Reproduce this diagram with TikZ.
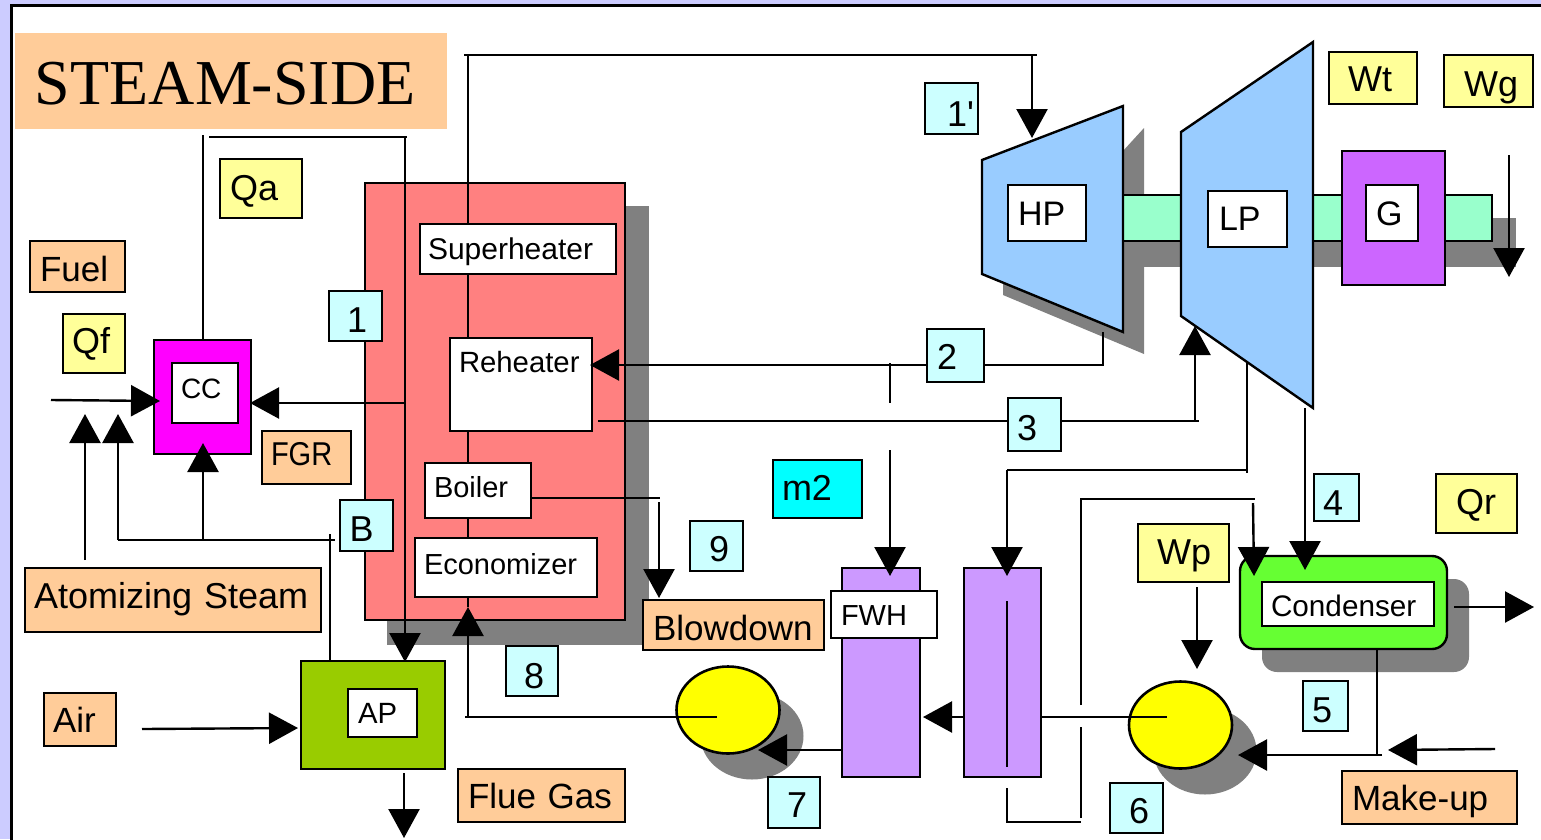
\documentclass[tikz,border=0pt]{standalone}
\usepackage{fontspec}
\setmainfont{Liberation Sans}
\newfontfamily\titlefont{Liberation Serif}
\newfontfamily\plainsans{Liberation Sans}
\usetikzlibrary{arrows.meta,shapes.geometric}
\definecolor{lav}{HTML}{CCCCFF}
\definecolor{orangeb}{HTML}{FFCC99}
\definecolor{yellowb}{HTML}{FFFF99}
\definecolor{cyanb}{HTML}{CCFFFF}
\definecolor{cyanfull}{HTML}{00FFFF}
\definecolor{magentafull}{HTML}{FF00FF}
\definecolor{yellowfull}{HTML}{FFFF00}
\definecolor{shadegrey}{HTML}{808080}
\definecolor{furn}{HTML}{FF8080}
\definecolor{heat}{HTML}{CC99FF}
\definecolor{blueT}{HTML}{99CCFF}
\definecolor{shaftc}{HTML}{99FFCC}
\definecolor{genc}{HTML}{CC66FF}
\definecolor{condc}{HTML}{66FF33}
\definecolor{apc}{HTML}{99CC00}
\newcommand{\fsz}[1]{\fontsize{#1pt}{#1pt}\selectfont}
% \bx{style}{name}{x1}{y1}{x2}{y2}{text x}{baseline y}{text}
\newcommand{\bx}[9]{%
  \pgfmathsetmacro{\bxw}{#5-#3}%
  \pgfmathsetmacro{\bxh}{#8-#4}%
  \pgfmathsetmacro{\bxd}{#6-#8}%
  \pgfmathsetmacro{\bxp}{#7-#3}%
  \node[anchor=north west,inner sep=0pt,outer sep=0pt,align=left,
        text width=\bxw pt,text height=\bxh pt,text depth=\bxd pt,#1] (#2) at (#3,#4)
        {\hspace*{\bxp pt}\mbox{#9}};}
\tikzset{
  x=1pt,y=-1pt,
  boxline/.style={draw=black,line width=2.4pt},
  orangebox/.style={boxline,fill=orangeb,font=\fsz{35}},
  yellowbox/.style={boxline,fill=yellowb,font=\fsz{36}},
  cyanbox/.style={boxline,fill=cyanb,font=\fsz{36}},
  whitebox/.style={boxline,fill=white,font=\fsz{29.3}},
  block/.style={boxline},
  wire/.style={draw=black,line width=2.4pt},
  flow/.style={wire,-{Triangle[length=29pt,width=31pt]}},
  pumpshape/.style={ellipse,draw=black,line width=2.6pt,fill=yellowfull,inner sep=0pt,outer sep=0pt,minimum width=103pt,minimum height=87pt},
  pumpshadow/.style={ellipse,fill=shadegrey,inner sep=0pt,outer sep=0pt,minimum width=103pt,minimum height=87pt},
}
\begin{document}
\begin{tikzpicture}
\useasboundingbox (0,0) rectangle (1541,839);
\clip (0,0) rectangle (1541,839);
\fill[lav] (0,0) rectangle (1541,839);
\draw[line width=2.6pt,fill=white] (11.5,5.5) rectangle (1560,860);

% title
\bx{fill=orangeb,font=\titlefont\fsz{64}}{title}{15}{33}{447}{129}{35}{104.5}{STEAM-SIDE}

% shadows
\fill[shadegrey] (387,206) rectangle (649,645);
\fill[shadegrey] (1003,282) -- (1144,128) -- (1144,354) -- (1003,295) -- cycle;
\fill[shadegrey] (1140,218) rectangle (1516,267);
\node[pumpshadow] (p1s) at (752,736) {};
\node[pumpshadow] (p2s) at (1205,751) {};
\fill[shadegrey,rounded corners=15pt] (1262,579) rectangle (1469,672);

% furnace and components
\bx{block,fill=furn}{furnace}{365}{183}{625}{620}{0}{400}{}
\bx{whitebox,font=\fsz{30}}{sup}{420}{224}{616}{274}{428}{259}{Superheater}
\bx{whitebox}{reh}{450}{338}{592}{431}{459}{372}{Reheater}
\bx{whitebox,font=\fsz{29}}{boil}{425}{463}{531}{518}{434}{497}{Boiler}
\bx{whitebox,font=\fsz{29}}{eco}{415}{538}{597}{597}{424}{574}{Economizer}

% combustion chamber
\bx{block,fill=magentafull}{ccouter}{154}{340}{251}{454}{154}{400}{}
\bx{whitebox,font=\fsz{28}}{cc}{172}{363}{238}{423}{181}{398.5}{CC}

% air preheater
\bx{block,fill=apc}{apouter}{301}{661}{445}{769}{301}{720}{}
\bx{whitebox}{ap}{348}{689}{417}{737}{358}{723.5}{AP}

% shaft and turbines
\bx{block,fill=shaftc}{shaft}{1121}{195}{1492}{241}{1121}{220}{}
\draw[block,fill=blueT,line join=miter] (982,160) -- (1123,106) -- (1123,332) -- (982,274) -- cycle;
\draw[block,fill=blueT,line join=miter] (1181,132) -- (1313,42) -- (1313,408) -- (1181,316) -- cycle;
\bx{whitebox,font=\fsz{34}}{hp}{1008}{185}{1086}{241}{1018}{225}{HP}
\bx{whitebox,font=\fsz{34}}{lp}{1208}{191}{1287}{247}{1219}{230.5}{LP}
\bx{block,fill=genc}{gouter}{1342}{151}{1445}{285}{1342}{220}{}
\bx{whitebox,font=\fsz{34}}{g}{1366}{185}{1418}{241}{1376}{225.5}{G}

% feedwater heaters
\bx{block,fill=heat}{fwhbody}{842}{568}{920}{777}{842}{670}{}
\bx{block,fill=heat}{dea}{964}{568}{1041}{777}{964}{670}{}
\bx{whitebox,font=\fsz{29}}{fwh}{831}{591}{937}{638}{841}{625}{FWH}

% pumps
\node[pumpshape] (p1) at (728,710) {};
\node[pumpshape] (p2) at (1180.5,725) {};

% condenser
\draw[block,fill=condc,rounded corners=15pt] (1240,556) rectangle (1447,649);
\bx{whitebox,font=\fsz{29.7}}{cond}{1262}{582}{1434}{626}{1271}{616}{Condenser}

% labels
\bx{yellowbox}{qa}{220}{159}{302}{218}{230}{200}{Qa}
\bx{orangebox}{fuel}{30}{241}{125}{292}{40}{281}{Fuel}
\bx{yellowbox}{qf}{63}{314}{125}{373}{72}{353.5}{Qf}
\bx{orangebox,font=\fsz{33}}{fgr}{262}{431}{351}{484}{271}{465.5}{\scalebox{0.88}[1]{FGR}}
\bx{orangebox,font=\fsz{36}}{atom}{25}{568}{321}{632}{34}{608}{Atomizing Steam}
\bx{orangebox}{air}{44}{693}{116}{746}{53}{732}{Air}
\bx{orangebox}{flue}{458}{769}{625}{822}{468}{808.5}{Flue Gas}
\bx{orangebox}{blow}{643}{600}{824}{650}{653}{640}{Blowdown}
\bx{orangebox}{make}{1342}{771}{1517}{824}{1352}{810}{Make-up}
\bx{yellowbox}{wt}{1329}{52}{1417}{104}{1348}{91}{Wt}
\bx{yellowbox}{wg}{1444}{55}{1533}{107}{1464}{96}{Wg}
\bx{yellowbox}{wp}{1138}{524}{1229}{582}{1157}{564}{Wp}
\bx{yellowbox}{qr}{1436}{474}{1517}{533}{1456}{514}{Qr}
\bx{cyanbox}{n1p}{925}{83}{978}{134}{947}{126}{{\plainsans 1'}}
\bx{cyanbox}{n1}{329}{291}{382}{341}{347}{332.5}{1}
\bx{cyanbox}{nB}{340}{500}{393}{551}{349.5}{541}{B}
\bx{cyanbox}{n2}{927}{329}{984}{382}{937}{369}{2}
\bx{cyanbox}{n3}{1008}{398}{1061}{451}{1017}{440}{3}
\bx{cyanbox}{n4}{1314}{474}{1359}{521}{1323}{515}{4}
\bx{cyanbox}{n5}{1303}{681}{1348}{731}{1312}{722}{5}
\bx{cyanbox}{n6}{1110}{783}{1163}{833}{1129}{823}{6}
\bx{cyanbox}{n7}{768}{777}{820}{828}{787}{817}{7}
\bx{cyanbox}{n8}{506}{646}{558}{696}{524}{688}{8}
\bx{cyanbox}{n9}{690}{521}{743}{571}{709}{561}{9}
\bx{boxline,fill=cyanfull,font=\fsz{36}}{m2}{773}{460}{862}{518}{782}{500}{m2}

% free ends of connectors
\coordinate (stemTop) at (468,55);
\coordinate (stemL) at (464,55);
\coordinate (stemR) at (1037,55);
\coordinate (hpDrop) at (1032,55);
\coordinate (hpTip) at (1032,138);
\coordinate (ecoBase) at (468,717);
\coordinate (ecoTip) at (468,607);
\coordinate (ecoL) at (465,717);
\coordinate (p1in) at (717,717);
\coordinate (qaTop) at (203,135);
\coordinate (qaL) at (209,137);
\coordinate (qaR) at (407,137);
\coordinate (gasTop) at (405,137);
\coordinate (gasTip) at (405,662);
\coordinate (fgrBase) at (405,403);
\coordinate (fgrTip) at (250,403);
\coordinate (qfStart) at (51,400);
\coordinate (qfTip) at (160,401);
\coordinate (asOne) at (85,560);
\coordinate (asOneTip) at (85,414);
\coordinate (airRet) at (118,540);
\coordinate (airRetTip) at (118,414);
\coordinate (airRetR) at (335,540);
\coordinate (airCC) at (203,540);
\coordinate (airCCTip) at (203,443);
\coordinate (apRiser) at (330,534);
\coordinate (airStart) at (142,729);
\coordinate (airTip) at (298,728);
\coordinate (stackTop) at (404,773);
\coordinate (stackTip) at (404,838);
\coordinate (hpOut) at (1103,332);
\coordinate (hpOutB) at (1103,365);
\coordinate (rehTip) at (590,365);
\coordinate (extrA) at (890,363);
\coordinate (extrB) at (890,403);
\coordinate (extrC) at (890,450);
\coordinate (extrTip) at (890,576);
\coordinate (rehOut) at (598,421);
\coordinate (lpInB) at (1199,421);
\coordinate (lpIn) at (1195,421);
\coordinate (lpTip) at (1195,326);
\coordinate (blowA) at (660,498);
\coordinate (blowB) at (659,502);
\coordinate (blowTip) at (659,598);
\coordinate (lpExtr) at (1247,362);
\coordinate (lpExtrB) at (1247,473);
\coordinate (lpExtrC) at (1247,470);
\coordinate (deaLeft) at (1007,470);
\coordinate (deaTip) at (1007,576);
\coordinate (deaA) at (1007,601);
\coordinate (deaB) at (1007,767);
\coordinate (drainA) at (1007,788);
\coordinate (drainB) at (1007,822);
\coordinate (drainC) at (1081,822);
\coordinate (retA) at (1081,818);
\coordinate (retB) at (1081,727);
\coordinate (retC) at (1081,705);
\coordinate (retD) at (1081,499);
\coordinate (retE) at (1255,499);
\coordinate (retF) at (1253,503);
\coordinate (retTip) at (1254,576);
\coordinate (lpExh) at (1305,408);
\coordinate (lpExhTip) at (1305,570);
\coordinate (qrStart) at (1454,607);
\coordinate (qrTip) at (1534,607);
\coordinate (wpStart) at (1197,587);
\coordinate (wpTip) at (1197,669);
\coordinate (condDown) at (1377,755);
\coordinate (condR) at (1382,755);
\coordinate (p2Tip) at (1238,755);
\coordinate (makeStart) at (1495,749);
\coordinate (makeTip) at (1388,750);
\coordinate (p2in) at (1167,717);
\coordinate (deaOut) at (964,717);
\coordinate (fwhTip) at (923,717);
\coordinate (fwhOut) at (842,750);
\coordinate (p1Tip) at (758,750);
\coordinate (wgStart) at (1509,155);
\coordinate (wgTip) at (1509,277);

% connectors: steam stem
\draw[wire] (stemTop |- sup.north) -- (stemTop);
\draw[wire] (stemL) -- (stemR);
\draw[flow] (hpDrop) -- (hpTip);
\draw[wire] (stemTop |- sup.south) -- (stemTop |- reh.north);
\draw[wire] (stemTop |- reh.south) -- (stemTop |- boil.north);
\draw[wire] (stemTop |- boil.south) -- (stemTop |- eco.north);
\draw[wire] (ecoTip) -- (stemTop |- eco.south);
\draw[flow] (ecoBase) -- (ecoTip);
\draw[wire] (p1in) -- (ecoL);
% combustion side
\draw[wire] (qaTop) -- (qaTop |- ccouter.north);
\draw[wire] (qaL) -- (qaR);
\draw[flow] (gasTop) -- (gasTip);
\draw[flow] (fgrBase) -- (fgrTip);
\draw[flow] (qfStart) -- (qfTip);
\draw[flow] (asOne) -- (asOneTip);
\draw[flow] (airRet) -- (airRetTip);
\draw[wire] (airRet) -- (airRetR);
\draw[flow] (airCC) -- (airCCTip);
\draw[wire] (apRiser |- apouter.north) -- (apRiser);
\draw[flow] (airStart) -- (airTip);
\draw[flow] (stackTop) -- (stackTip);
% reheat
\draw[wire] (hpOut) -- (hpOutB) -- (n2.east |- hpOutB);
\draw[flow] (n2.west |- hpOutB) -- (rehTip);
\draw[wire] (extrA) -- (extrB);
\draw[flow] (extrC) -- (extrTip);
\draw[wire] (rehOut) -- (n3.west |- rehOut);
\draw[wire] (n3.east |- rehOut) -- (lpInB);
\draw[flow] (lpIn) -- (lpTip);
% blowdown
\draw[wire] (boil.east |- blowA) -- (blowA);
\draw[flow] (blowB) -- (blowTip);
% extraction to deaerator
\draw[wire] (lpExtr) -- (lpExtrB);
\draw[wire] (lpExtrC) -- (deaLeft);
\draw[flow] (deaLeft) -- (deaTip);
\draw[wire] (deaA) -- (deaB);
\draw[wire] (drainA) -- (drainB) -- (drainC);
\draw[wire] (retA) -- (retB);
\draw[wire] (retC) -- (retD) -- (retE);
\draw[flow] (retF) -- (retTip);
% condenser and pumps
\draw[flow] (lpExh) -- (lpExhTip);
\draw[flow] (qrStart) -- (qrTip);
\draw[flow] (wpStart) -- (wpTip);
\draw[wire] (condDown |- 0,649) -- (condDown);
\draw[flow] (condR) -- (p2Tip);
\draw[flow] (makeStart) -- (makeTip);
\draw[wire] (p2in) -- (dea.east |- p2in);
\draw[flow] (deaOut) -- (fwhTip);
\draw[flow] (fwhOut) -- (p1Tip);
\draw[flow] (wgStart) -- (wgTip);
\end{tikzpicture}
\end{document}
